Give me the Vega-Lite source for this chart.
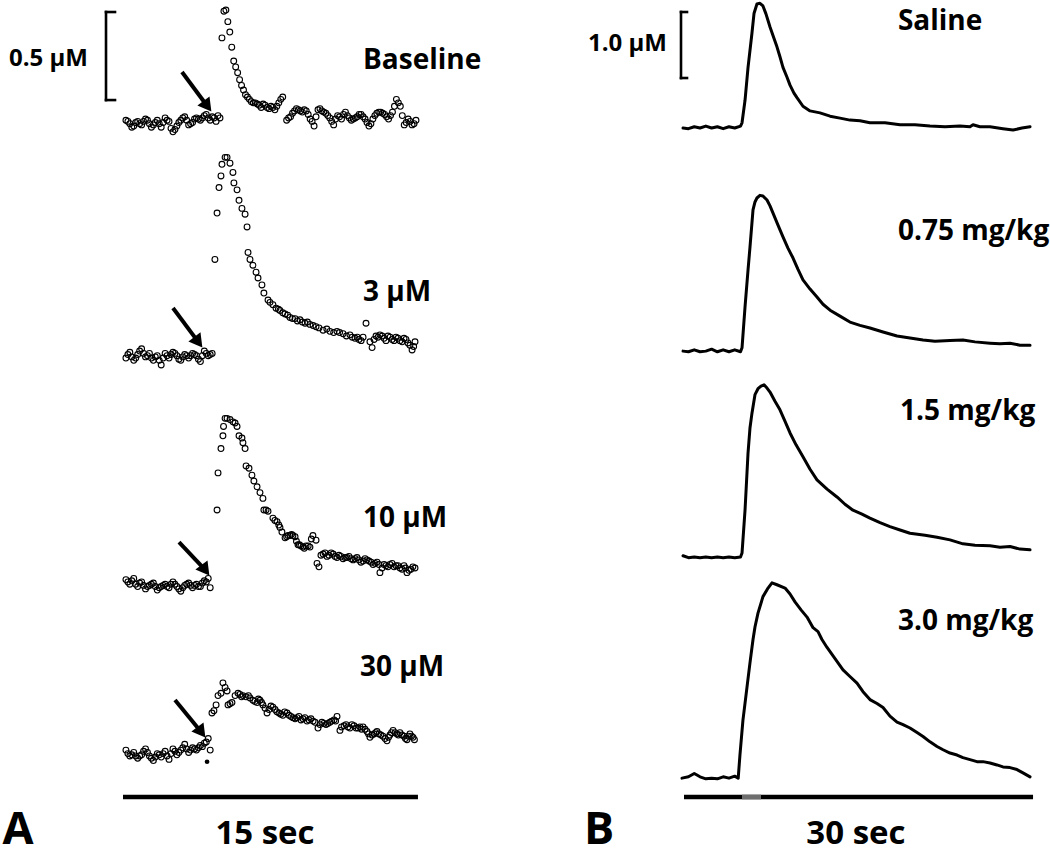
{
  "$schema": "https://vega.github.io/schema/vega-lite/v6.json",
  "padding": 0,
  "spacing": 0,
  "bounds": "flush",
  "background": "white",
  "config": {"view": {"stroke": null}, "text": {"font": "Open Sans", "fontWeight": "bold", "color": "#000"}},
  "datasets": {
    "aPts": [
      {"trace":"Baseline","t":0.2,"v":6.36},{"trace":"Baseline","t":0.4,"v":6.33},{"trace":"Baseline","t":0.6,"v":6.31},{"trace":"Baseline","t":0.8,"v":6.35},{"trace":"Baseline","t":1.0,"v":6.32},{"trace":"Baseline","t":1.2,"v":6.37},{"trace":"Baseline","t":1.4,"v":6.33},{"trace":"Baseline","t":1.6,"v":6.32},{"trace":"Baseline","t":1.8,"v":6.36},{"trace":"Baseline","t":2.0,"v":6.30},{"trace":"Baseline","t":2.2,"v":6.38},{"trace":"Baseline","t":2.4,"v":6.35},{"trace":"Baseline","t":2.6,"v":6.26},{"trace":"Baseline","t":2.8,"v":6.31},{"trace":"Baseline","t":3.0,"v":6.36},{"trace":"Baseline","t":3.2,"v":6.39},{"trace":"Baseline","t":3.4,"v":6.32},{"trace":"Baseline","t":3.6,"v":6.34},{"trace":"Baseline","t":3.8,"v":6.38},{"trace":"Baseline","t":4.0,"v":6.36},{"trace":"Baseline","t":4.2,"v":6.40},{"trace":"Baseline","t":4.4,"v":6.38},{"trace":"Baseline","t":4.6,"v":6.39},{"trace":"Baseline","t":4.8,"v":6.35},{"trace":"Baseline","t":5.0,"v":6.38},
      {"trace":"Baseline","t":0.3,"v":6.35},{"trace":"Baseline","t":0.5,"v":6.30},{"trace":"Baseline","t":0.7,"v":6.34},{"trace":"Baseline","t":0.9,"v":6.33},{"trace":"Baseline","t":1.1,"v":6.35},{"trace":"Baseline","t":1.3,"v":6.36},{"trace":"Baseline","t":1.5,"v":6.30},{"trace":"Baseline","t":1.7,"v":6.34},{"trace":"Baseline","t":1.9,"v":6.33},{"trace":"Baseline","t":2.1,"v":6.34},{"trace":"Baseline","t":2.3,"v":6.36},{"trace":"Baseline","t":2.5,"v":6.29},{"trace":"Baseline","t":2.7,"v":6.28},{"trace":"Baseline","t":2.9,"v":6.34},{"trace":"Baseline","t":3.1,"v":6.38},{"trace":"Baseline","t":3.3,"v":6.36},{"trace":"Baseline","t":3.5,"v":6.33},{"trace":"Baseline","t":3.7,"v":6.37},{"trace":"Baseline","t":3.9,"v":6.37},{"trace":"Baseline","t":4.1,"v":6.38},{"trace":"Baseline","t":4.3,"v":6.41},{"trace":"Baseline","t":4.5,"v":6.36},{"trace":"Baseline","t":4.7,"v":6.38},{"trace":"Baseline","t":4.9,"v":6.40},
      {"trace":"Baseline","t":5.1,"v":7.07},{"trace":"Baseline","t":5.2,"v":7.30},{"trace":"Baseline","t":5.3,"v":7.31},{"trace":"Baseline","t":5.4,"v":7.21},{"trace":"Baseline","t":5.5,"v":7.12},{"trace":"Baseline","t":5.6,"v":6.99},{"trace":"Baseline","t":5.7,"v":6.87},{"trace":"Baseline","t":5.8,"v":6.82},{"trace":"Baseline","t":5.9,"v":6.77},{"trace":"Baseline","t":6.0,"v":6.71},{"trace":"Baseline","t":6.1,"v":6.66},{"trace":"Baseline","t":6.2,"v":6.62},{"trace":"Baseline","t":6.3,"v":6.58},{"trace":"Baseline","t":6.4,"v":6.56},{"trace":"Baseline","t":6.5,"v":6.54},{"trace":"Baseline","t":6.6,"v":6.52},{"trace":"Baseline","t":6.8,"v":6.51},{"trace":"Baseline","t":7.0,"v":6.49},{"trace":"Baseline","t":7.2,"v":6.50},{"trace":"Baseline","t":7.4,"v":6.47},{"trace":"Baseline","t":7.6,"v":6.48},{"trace":"Baseline","t":7.8,"v":6.45},{"trace":"Baseline","t":8.0,"v":6.51},{"trace":"Baseline","t":8.2,"v":6.56},
      {"trace":"Baseline","t":6.7,"v":6.51},{"trace":"Baseline","t":6.9,"v":6.50},{"trace":"Baseline","t":7.1,"v":6.47},{"trace":"Baseline","t":7.3,"v":6.49},{"trace":"Baseline","t":7.5,"v":6.46},{"trace":"Baseline","t":7.7,"v":6.47},{"trace":"Baseline","t":7.9,"v":6.48},{"trace":"Baseline","t":8.1,"v":6.54},
      {"trace":"Baseline","t":8.4,"v":6.36},{"trace":"Baseline","t":8.6,"v":6.39},{"trace":"Baseline","t":8.8,"v":6.44},{"trace":"Baseline","t":9.0,"v":6.45},{"trace":"Baseline","t":9.2,"v":6.43},{"trace":"Baseline","t":9.4,"v":6.44},{"trace":"Baseline","t":9.6,"v":6.37},{"trace":"Baseline","t":9.8,"v":6.31},{"trace":"Baseline","t":10.0,"v":6.45},{"trace":"Baseline","t":10.2,"v":6.44},{"trace":"Baseline","t":10.4,"v":6.42},{"trace":"Baseline","t":10.6,"v":6.38},{"trace":"Baseline","t":10.8,"v":6.32},{"trace":"Baseline","t":11.0,"v":6.40},{"trace":"Baseline","t":11.2,"v":6.37},{"trace":"Baseline","t":11.4,"v":6.43},{"trace":"Baseline","t":11.6,"v":6.38},{"trace":"Baseline","t":11.8,"v":6.37},{"trace":"Baseline","t":12.0,"v":6.39},{"trace":"Baseline","t":12.2,"v":6.41},{"trace":"Baseline","t":12.4,"v":6.37},{"trace":"Baseline","t":12.6,"v":6.31},{"trace":"Baseline","t":12.8,"v":6.37},{"trace":"Baseline","t":13.0,"v":6.42},{"trace":"Baseline","t":13.2,"v":6.43},{"trace":"Baseline","t":13.4,"v":6.41},{"trace":"Baseline","t":13.6,"v":6.37},{"trace":"Baseline","t":13.8,"v":6.43},{"trace":"Baseline","t":14.0,"v":6.54},{"trace":"Baseline","t":14.2,"v":6.48},{"trace":"Baseline","t":14.4,"v":6.32},{"trace":"Baseline","t":14.6,"v":6.37},{"trace":"Baseline","t":14.8,"v":6.32},{"trace":"Baseline","t":15.0,"v":6.36},
      {"trace":"Baseline","t":8.5,"v":6.38},{"trace":"Baseline","t":8.7,"v":6.42},{"trace":"Baseline","t":8.9,"v":6.46},{"trace":"Baseline","t":9.1,"v":6.44},{"trace":"Baseline","t":9.3,"v":6.45},{"trace":"Baseline","t":9.5,"v":6.41},{"trace":"Baseline","t":9.7,"v":6.35},{"trace":"Baseline","t":9.9,"v":6.39},{"trace":"Baseline","t":10.1,"v":6.46},{"trace":"Baseline","t":10.3,"v":6.43},{"trace":"Baseline","t":10.5,"v":6.40},{"trace":"Baseline","t":10.7,"v":6.35},{"trace":"Baseline","t":10.9,"v":6.37},{"trace":"Baseline","t":11.1,"v":6.39},{"trace":"Baseline","t":11.3,"v":6.41},{"trace":"Baseline","t":11.5,"v":6.40},{"trace":"Baseline","t":11.7,"v":6.36},{"trace":"Baseline","t":11.9,"v":6.38},{"trace":"Baseline","t":12.1,"v":6.41},{"trace":"Baseline","t":12.3,"v":6.39},{"trace":"Baseline","t":12.5,"v":6.34},{"trace":"Baseline","t":12.7,"v":6.33},{"trace":"Baseline","t":12.9,"v":6.40},{"trace":"Baseline","t":13.1,"v":6.43},{"trace":"Baseline","t":13.3,"v":6.42},{"trace":"Baseline","t":13.5,"v":6.39},{"trace":"Baseline","t":13.7,"v":6.40},{"trace":"Baseline","t":13.9,"v":6.48},{"trace":"Baseline","t":14.1,"v":6.51},{"trace":"Baseline","t":14.3,"v":6.40},{"trace":"Baseline","t":14.5,"v":6.34},{"trace":"Baseline","t":14.7,"v":6.35},{"trace":"Baseline","t":14.9,"v":6.33},

      {"trace":"3 µM","t":0.2,"v":4.31},{"trace":"3 µM","t":0.4,"v":4.36},{"trace":"3 µM","t":0.6,"v":4.29},{"trace":"3 µM","t":0.8,"v":4.34},{"trace":"3 µM","t":1.0,"v":4.39},{"trace":"3 µM","t":1.2,"v":4.32},{"trace":"3 µM","t":1.4,"v":4.35},{"trace":"3 µM","t":1.6,"v":4.29},{"trace":"3 µM","t":1.8,"v":4.33},{"trace":"3 µM","t":2.0,"v":4.25},{"trace":"3 µM","t":2.2,"v":4.35},{"trace":"3 µM","t":2.4,"v":4.31},{"trace":"3 µM","t":2.6,"v":4.36},{"trace":"3 µM","t":2.8,"v":4.33},{"trace":"3 µM","t":3.0,"v":4.29},{"trace":"3 µM","t":3.2,"v":4.34},{"trace":"3 µM","t":3.4,"v":4.31},{"trace":"3 µM","t":3.6,"v":4.35},{"trace":"3 µM","t":3.8,"v":4.33},{"trace":"3 µM","t":4.0,"v":4.28},{"trace":"3 µM","t":4.2,"v":4.37},{"trace":"3 µM","t":4.4,"v":4.33},{"trace":"3 µM","t":4.6,"v":4.35},
      {"trace":"3 µM","t":0.3,"v":4.34},{"trace":"3 µM","t":0.5,"v":4.32},{"trace":"3 µM","t":0.7,"v":4.31},{"trace":"3 µM","t":0.9,"v":4.37},{"trace":"3 µM","t":1.1,"v":4.35},{"trace":"3 µM","t":1.3,"v":4.33},{"trace":"3 µM","t":1.5,"v":4.31},{"trace":"3 µM","t":1.7,"v":4.32},{"trace":"3 µM","t":1.9,"v":4.29},{"trace":"3 µM","t":2.1,"v":4.31},{"trace":"3 µM","t":2.3,"v":4.33},{"trace":"3 µM","t":2.5,"v":4.34},{"trace":"3 µM","t":2.7,"v":4.35},{"trace":"3 µM","t":2.9,"v":4.30},{"trace":"3 µM","t":3.1,"v":4.32},{"trace":"3 µM","t":3.3,"v":4.33},{"trace":"3 µM","t":3.5,"v":4.33},{"trace":"3 µM","t":3.7,"v":4.34},{"trace":"3 µM","t":3.9,"v":4.30},{"trace":"3 µM","t":4.1,"v":4.33},{"trace":"3 µM","t":4.3,"v":4.35},{"trace":"3 µM","t":4.5,"v":4.34},
      {"trace":"3 µM","t":4.74,"v":5.16},{"trace":"3 µM","t":4.85,"v":5.56},{"trace":"3 µM","t":4.95,"v":5.78},{"trace":"3 µM","t":5.05,"v":5.88},{"trace":"3 µM","t":5.10,"v":5.98},{"trace":"3 µM","t":5.26,"v":6.04},{"trace":"3 µM","t":5.36,"v":6.04},{"trace":"3 µM","t":5.51,"v":5.99},{"trace":"3 µM","t":5.66,"v":5.91},{"trace":"3 µM","t":5.71,"v":5.82},{"trace":"3 µM","t":5.87,"v":5.76},{"trace":"3 µM","t":5.97,"v":5.67},{"trace":"3 µM","t":6.12,"v":5.60},{"trace":"3 µM","t":6.28,"v":5.55},{"trace":"3 µM","t":6.38,"v":5.44},{"trace":"3 µM","t":6.43,"v":5.22},{"trace":"3 µM","t":6.53,"v":5.16},{"trace":"3 µM","t":6.68,"v":5.11},{"trace":"3 µM","t":6.84,"v":5.05},{"trace":"3 µM","t":6.94,"v":5.00},{"trace":"3 µM","t":7.14,"v":4.94},{"trace":"3 µM","t":7.24,"v":4.87},{"trace":"3 µM","t":7.45,"v":4.81},{"trace":"3 µM","t":7.70,"v":4.77},{"trace":"3 µM","t":7.86,"v":4.74},{"trace":"3 µM","t":8.06,"v":4.72},{"trace":"3 µM","t":8.32,"v":4.69},{"trace":"3 µM","t":8.57,"v":4.66},{"trace":"3 µM","t":8.83,"v":4.65},{"trace":"3 µM","t":9.08,"v":4.64},{"trace":"3 µM","t":9.34,"v":4.61},{"trace":"3 µM","t":9.59,"v":4.60},{"trace":"3 µM","t":9.90,"v":4.58},{"trace":"3 µM","t":10.26,"v":4.55},{"trace":"3 µM","t":10.61,"v":4.54},{"trace":"3 µM","t":10.97,"v":4.54},{"trace":"3 µM","t":11.28,"v":4.52},{"trace":"3 µM","t":11.63,"v":4.51},{"trace":"3 µM","t":11.89,"v":4.48},{"trace":"3 µM","t":12.09,"v":4.47},{"trace":"3 µM","t":12.30,"v":4.49},{"trace":"3 µM","t":12.45,"v":4.61},
      {"trace":"3 µM","t":7.55,"v":4.79},{"trace":"3 µM","t":7.98,"v":4.73},{"trace":"3 µM","t":8.2,"v":4.70},{"trace":"3 µM","t":8.45,"v":4.68},{"trace":"3 µM","t":8.7,"v":4.65},{"trace":"3 µM","t":8.95,"v":4.63},{"trace":"3 µM","t":9.2,"v":4.62},{"trace":"3 µM","t":9.46,"v":4.62},{"trace":"3 µM","t":9.75,"v":4.59},{"trace":"3 µM","t":10.05,"v":4.57},{"trace":"3 µM","t":10.45,"v":4.56},{"trace":"3 µM","t":10.8,"v":4.53},{"trace":"3 µM","t":11.1,"v":4.53},{"trace":"3 µM","t":11.45,"v":4.50},{"trace":"3 µM","t":11.75,"v":4.49},{"trace":"3 µM","t":12.0,"v":4.49},{"trace":"3 µM","t":12.2,"v":4.46},
      {"trace":"3 µM","t":12.65,"v":4.45},{"trace":"3 µM","t":12.76,"v":4.40},{"trace":"3 µM","t":12.96,"v":4.50},{"trace":"3 µM","t":13.16,"v":4.51},{"trace":"3 µM","t":13.37,"v":4.48},{"trace":"3 µM","t":13.57,"v":4.50},{"trace":"3 µM","t":13.78,"v":4.47},{"trace":"3 µM","t":13.98,"v":4.49},{"trace":"3 µM","t":14.18,"v":4.46},{"trace":"3 µM","t":14.39,"v":4.48},{"trace":"3 µM","t":14.59,"v":4.44},{"trace":"3 µM","t":14.80,"v":4.38},{"trace":"3 µM","t":14.95,"v":4.45},
      {"trace":"3 µM","t":12.86,"v":4.47},{"trace":"3 µM","t":13.06,"v":4.49},{"trace":"3 µM","t":13.27,"v":4.50},{"trace":"3 µM","t":13.47,"v":4.46},{"trace":"3 µM","t":13.68,"v":4.49},{"trace":"3 µM","t":13.88,"v":4.46},{"trace":"3 µM","t":14.08,"v":4.48},{"trace":"3 µM","t":14.29,"v":4.45},{"trace":"3 µM","t":14.49,"v":4.47},{"trace":"3 µM","t":14.69,"v":4.42},{"trace":"3 µM","t":14.88,"v":4.41},

      {"trace":"10 µM","t":0.2,"v":2.40},{"trace":"10 µM","t":0.4,"v":2.36},{"trace":"10 µM","t":0.6,"v":2.41},{"trace":"10 µM","t":0.8,"v":2.34},{"trace":"10 µM","t":1.0,"v":2.38},{"trace":"10 µM","t":1.2,"v":2.32},{"trace":"10 µM","t":1.4,"v":2.35},{"trace":"10 µM","t":1.6,"v":2.37},{"trace":"10 µM","t":1.8,"v":2.31},{"trace":"10 µM","t":2.0,"v":2.34},{"trace":"10 µM","t":2.2,"v":2.36},{"trace":"10 µM","t":2.4,"v":2.33},{"trace":"10 µM","t":2.6,"v":2.38},{"trace":"10 µM","t":2.8,"v":2.34},{"trace":"10 µM","t":3.0,"v":2.30},{"trace":"10 µM","t":3.2,"v":2.35},{"trace":"10 µM","t":3.4,"v":2.37},{"trace":"10 µM","t":3.6,"v":2.33},{"trace":"10 µM","t":3.8,"v":2.36},{"trace":"10 µM","t":4.0,"v":2.34},{"trace":"10 µM","t":4.2,"v":2.39},{"trace":"10 µM","t":4.4,"v":2.41},{"trace":"10 µM","t":4.5,"v":2.33},
      {"trace":"10 µM","t":0.3,"v":2.38},{"trace":"10 µM","t":0.5,"v":2.39},{"trace":"10 µM","t":0.7,"v":2.36},{"trace":"10 µM","t":0.9,"v":2.37},{"trace":"10 µM","t":1.1,"v":2.35},{"trace":"10 µM","t":1.3,"v":2.34},{"trace":"10 µM","t":1.5,"v":2.36},{"trace":"10 µM","t":1.7,"v":2.34},{"trace":"10 µM","t":1.9,"v":2.33},{"trace":"10 µM","t":2.1,"v":2.35},{"trace":"10 µM","t":2.3,"v":2.34},{"trace":"10 µM","t":2.5,"v":2.36},{"trace":"10 µM","t":2.7,"v":2.36},{"trace":"10 µM","t":2.9,"v":2.32},{"trace":"10 µM","t":3.1,"v":2.33},{"trace":"10 µM","t":3.3,"v":2.36},{"trace":"10 µM","t":3.5,"v":2.35},{"trace":"10 µM","t":3.7,"v":2.35},{"trace":"10 µM","t":3.9,"v":2.34},{"trace":"10 µM","t":4.1,"v":2.37},{"trace":"10 µM","t":4.3,"v":2.38},
      {"trace":"10 µM","t":4.85,"v":3.00},{"trace":"10 µM","t":4.90,"v":3.32},{"trace":"10 µM","t":5.05,"v":3.53},{"trace":"10 µM","t":5.15,"v":3.64},{"trace":"10 µM","t":5.18,"v":3.72},{"trace":"10 µM","t":5.26,"v":3.79},{"trace":"10 µM","t":5.36,"v":3.79},{"trace":"10 µM","t":5.51,"v":3.78},{"trace":"10 µM","t":5.66,"v":3.76},{"trace":"10 µM","t":5.77,"v":3.75},{"trace":"10 µM","t":5.87,"v":3.72},{"trace":"10 µM","t":5.97,"v":3.64},{"trace":"10 µM","t":6.12,"v":3.62},{"trace":"10 µM","t":6.17,"v":3.58},{"trace":"10 µM","t":6.28,"v":3.53},{"trace":"10 µM","t":6.33,"v":3.38},{"trace":"10 µM","t":6.48,"v":3.36},{"trace":"10 µM","t":6.63,"v":3.30},{"trace":"10 µM","t":6.73,"v":3.25},{"trace":"10 µM","t":6.89,"v":3.20},{"trace":"10 µM","t":7.04,"v":3.15},{"trace":"10 µM","t":7.19,"v":3.10},{"trace":"10 µM","t":7.24,"v":3.00},{"trace":"10 µM","t":7.35,"v":3.00},{"trace":"10 µM","t":7.45,"v":2.99},{"trace":"10 µM","t":7.70,"v":2.93},{"trace":"10 µM","t":7.91,"v":2.90},{"trace":"10 µM","t":8.06,"v":2.85},{"trace":"10 µM","t":8.16,"v":2.81},{"trace":"10 µM","t":8.32,"v":2.76},{"trace":"10 µM","t":8.47,"v":2.78},{"trace":"10 µM","t":8.57,"v":2.78},{"trace":"10 µM","t":8.72,"v":2.78},{"trace":"10 µM","t":8.83,"v":2.77},{"trace":"10 µM","t":8.98,"v":2.70},{"trace":"10 µM","t":9.13,"v":2.69},{"trace":"10 µM","t":9.23,"v":2.68},{"trace":"10 µM","t":9.39,"v":2.69},{"trace":"10 µM","t":9.59,"v":2.68},{"trace":"10 µM","t":9.74,"v":2.78},{"trace":"10 µM","t":9.90,"v":2.74},{"trace":"10 µM","t":9.95,"v":2.54},{"trace":"10 µM","t":10.05,"v":2.51},
      {"trace":"10 µM","t":7.8,"v":2.91},{"trace":"10 µM","t":8.0,"v":2.87},{"trace":"10 µM","t":8.4,"v":2.77},{"trace":"10 µM","t":8.65,"v":2.79},{"trace":"10 µM","t":8.9,"v":2.73},{"trace":"10 µM","t":9.05,"v":2.70},{"trace":"10 µM","t":9.3,"v":2.67},{"trace":"10 µM","t":9.5,"v":2.69},{"trace":"10 µM","t":9.66,"v":2.75},
      {"trace":"10 µM","t":10.15,"v":2.61},{"trace":"10 µM","t":10.36,"v":2.63},{"trace":"10 µM","t":10.56,"v":2.61},{"trace":"10 µM","t":10.77,"v":2.62},{"trace":"10 µM","t":10.97,"v":2.59},{"trace":"10 µM","t":11.17,"v":2.60},{"trace":"10 µM","t":11.38,"v":2.59},{"trace":"10 µM","t":11.58,"v":2.60},{"trace":"10 µM","t":11.79,"v":2.57},{"trace":"10 µM","t":11.99,"v":2.59},{"trace":"10 µM","t":12.19,"v":2.55},{"trace":"10 µM","t":12.40,"v":2.58},{"trace":"10 µM","t":12.60,"v":2.56},{"trace":"10 µM","t":12.81,"v":2.53},{"trace":"10 µM","t":13.01,"v":2.55},{"trace":"10 µM","t":13.16,"v":2.46},{"trace":"10 µM","t":13.37,"v":2.53},{"trace":"10 µM","t":13.57,"v":2.51},{"trace":"10 µM","t":13.78,"v":2.54},{"trace":"10 µM","t":13.98,"v":2.52},{"trace":"10 µM","t":14.18,"v":2.50},{"trace":"10 µM","t":14.39,"v":2.52},{"trace":"10 µM","t":14.54,"v":2.46},{"trace":"10 µM","t":14.74,"v":2.49},{"trace":"10 µM","t":14.95,"v":2.50},
      {"trace":"10 µM","t":10.26,"v":2.62},{"trace":"10 µM","t":10.46,"v":2.60},{"trace":"10 µM","t":10.67,"v":2.63},{"trace":"10 µM","t":10.87,"v":2.60},{"trace":"10 µM","t":11.07,"v":2.61},{"trace":"10 µM","t":11.28,"v":2.58},{"trace":"10 µM","t":11.48,"v":2.59},{"trace":"10 µM","t":11.69,"v":2.58},{"trace":"10 µM","t":11.89,"v":2.58},{"trace":"10 µM","t":12.09,"v":2.57},{"trace":"10 µM","t":12.30,"v":2.56},{"trace":"10 µM","t":12.50,"v":2.57},{"trace":"10 µM","t":12.71,"v":2.55},{"trace":"10 µM","t":12.91,"v":2.54},{"trace":"10 µM","t":13.11,"v":2.53},{"trace":"10 µM","t":13.27,"v":2.50},{"trace":"10 µM","t":13.47,"v":2.52},{"trace":"10 µM","t":13.67,"v":2.53},{"trace":"10 µM","t":13.88,"v":2.51},{"trace":"10 µM","t":14.08,"v":2.52},{"trace":"10 µM","t":14.29,"v":2.49},{"trace":"10 µM","t":14.46,"v":2.50},{"trace":"10 µM","t":14.64,"v":2.48},{"trace":"10 µM","t":14.84,"v":2.51},

      {"trace":"30 µM","t":0.2,"v":0.93},{"trace":"30 µM","t":0.4,"v":0.88},{"trace":"30 µM","t":0.6,"v":0.91},{"trace":"30 µM","t":0.8,"v":0.86},{"trace":"30 µM","t":1.0,"v":0.89},{"trace":"30 µM","t":1.2,"v":0.94},{"trace":"30 µM","t":1.4,"v":0.88},{"trace":"30 µM","t":1.6,"v":0.84},{"trace":"30 µM","t":1.8,"v":0.90},{"trace":"30 µM","t":2.0,"v":0.87},{"trace":"30 µM","t":2.2,"v":0.92},{"trace":"30 µM","t":2.4,"v":0.85},{"trace":"30 µM","t":2.6,"v":0.94},{"trace":"30 µM","t":2.8,"v":0.89},{"trace":"30 µM","t":3.0,"v":0.93},{"trace":"30 µM","t":3.2,"v":0.98},{"trace":"30 µM","t":3.4,"v":0.91},{"trace":"30 µM","t":3.6,"v":0.95},{"trace":"30 µM","t":3.8,"v":0.93},{"trace":"30 µM","t":4.0,"v":0.97},{"trace":"30 µM","t":4.2,"v":0.99},{"trace":"30 µM","t":4.4,"v":1.03},{"trace":"30 µM","t":4.5,"v":0.93},
      {"trace":"30 µM","t":0.3,"v":0.90},{"trace":"30 µM","t":0.5,"v":0.89},{"trace":"30 µM","t":0.7,"v":0.88},{"trace":"30 µM","t":0.9,"v":0.88},{"trace":"30 µM","t":1.1,"v":0.92},{"trace":"30 µM","t":1.3,"v":0.91},{"trace":"30 µM","t":1.5,"v":0.86},{"trace":"30 µM","t":1.7,"v":0.87},{"trace":"30 µM","t":1.9,"v":0.89},{"trace":"30 µM","t":2.1,"v":0.90},{"trace":"30 µM","t":2.3,"v":0.88},{"trace":"30 µM","t":2.5,"v":0.90},{"trace":"30 µM","t":2.7,"v":0.92},{"trace":"30 µM","t":2.9,"v":0.91},{"trace":"30 µM","t":3.1,"v":0.95},{"trace":"30 µM","t":3.3,"v":0.94},{"trace":"30 µM","t":3.5,"v":0.93},{"trace":"30 µM","t":3.7,"v":0.94},{"trace":"30 µM","t":3.9,"v":0.95},{"trace":"30 µM","t":4.1,"v":0.96},{"trace":"30 µM","t":4.3,"v":1.00},
      {"trace":"30 µM","t":4.59,"v":1.25},{"trace":"30 µM","t":4.69,"v":1.27},{"trace":"30 µM","t":4.80,"v":1.32},{"trace":"30 µM","t":4.90,"v":1.40},{"trace":"30 µM","t":5.05,"v":1.42},{"trace":"30 µM","t":5.15,"v":1.51},{"trace":"30 µM","t":5.26,"v":1.47},{"trace":"30 µM","t":5.36,"v":1.44},{"trace":"30 µM","t":5.41,"v":1.32},{"trace":"30 µM","t":5.51,"v":1.33},{"trace":"30 µM","t":5.61,"v":1.34},{"trace":"30 µM","t":5.77,"v":1.40},{"trace":"30 µM","t":5.92,"v":1.42},{"trace":"30 µM","t":6.02,"v":1.41},{"trace":"30 µM","t":6.17,"v":1.40},{"trace":"30 µM","t":6.33,"v":1.39},{"trace":"30 µM","t":6.53,"v":1.38},{"trace":"30 µM","t":6.68,"v":1.36},{"trace":"30 µM","t":6.89,"v":1.34},{"trace":"30 µM","t":7.04,"v":1.36},{"trace":"30 µM","t":7.19,"v":1.32},{"trace":"30 µM","t":7.30,"v":1.29},{"trace":"30 µM","t":7.40,"v":1.25},{"trace":"30 µM","t":7.60,"v":1.31},{"trace":"30 µM","t":7.81,"v":1.28},{"trace":"30 µM","t":8.01,"v":1.25},{"trace":"30 µM","t":8.21,"v":1.23},{"trace":"30 µM","t":8.42,"v":1.25},{"trace":"30 µM","t":8.62,"v":1.22},{"trace":"30 µM","t":8.83,"v":1.20},{"trace":"30 µM","t":9.03,"v":1.22},{"trace":"30 µM","t":9.23,"v":1.20},{"trace":"30 µM","t":9.44,"v":1.18},{"trace":"30 µM","t":9.64,"v":1.20},{"trace":"30 µM","t":9.85,"v":1.17},{"trace":"30 µM","t":10.0,"v":1.12},{"trace":"30 µM","t":10.20,"v":1.17},{"trace":"30 µM","t":10.41,"v":1.15},{"trace":"30 µM","t":10.61,"v":1.17},{"trace":"30 µM","t":10.82,"v":1.19},{"trace":"30 µM","t":10.97,"v":1.22},{"trace":"30 µM","t":11.12,"v":1.10},{"trace":"30 µM","t":11.33,"v":1.14},{"trace":"30 µM","t":11.53,"v":1.13},{"trace":"30 µM","t":11.73,"v":1.15},{"trace":"30 µM","t":11.94,"v":1.12},{"trace":"30 µM","t":12.14,"v":1.13},{"trace":"30 µM","t":12.30,"v":1.13},{"trace":"30 µM","t":12.50,"v":1.09},{"trace":"30 µM","t":12.65,"v":1.04},{"trace":"30 µM","t":12.86,"v":1.07},{"trace":"30 µM","t":13.01,"v":1.09},{"trace":"30 µM","t":13.21,"v":1.06},{"trace":"30 µM","t":13.42,"v":1.03},{"trace":"30 µM","t":13.52,"v":1.01},{"trace":"30 µM","t":13.67,"v":1.06},{"trace":"30 µM","t":13.83,"v":1.10},{"trace":"30 µM","t":14.03,"v":1.07},{"trace":"30 µM","t":14.18,"v":1.08},{"trace":"30 µM","t":14.39,"v":1.05},{"trace":"30 µM","t":14.54,"v":1.02},{"trace":"30 µM","t":14.69,"v":1.07},{"trace":"30 µM","t":14.85,"v":1.04},
      {"trace":"30 µM","t":6.1,"v":1.39},{"trace":"30 µM","t":6.45,"v":1.40},{"trace":"30 µM","t":6.78,"v":1.35},{"trace":"30 µM","t":6.96,"v":1.37},{"trace":"30 µM","t":7.12,"v":1.34},{"trace":"30 µM","t":7.5,"v":1.28},{"trace":"30 µM","t":7.7,"v":1.30},{"trace":"30 µM","t":7.9,"v":1.26},{"trace":"30 µM","t":8.1,"v":1.24},{"trace":"30 µM","t":8.3,"v":1.26},{"trace":"30 µM","t":8.52,"v":1.23},{"trace":"30 µM","t":8.72,"v":1.21},{"trace":"30 µM","t":8.93,"v":1.21},{"trace":"30 µM","t":9.13,"v":1.19},{"trace":"30 µM","t":9.33,"v":1.21},{"trace":"30 µM","t":9.54,"v":1.19},{"trace":"30 µM","t":9.75,"v":1.18},{"trace":"30 µM","t":10.1,"v":1.15},{"trace":"30 µM","t":10.3,"v":1.16},{"trace":"30 µM","t":10.5,"v":1.16},{"trace":"30 µM","t":10.7,"v":1.18},{"trace":"30 µM","t":10.9,"v":1.18},{"trace":"30 µM","t":11.2,"v":1.13},{"trace":"30 µM","t":11.43,"v":1.15},{"trace":"30 µM","t":11.63,"v":1.12},{"trace":"30 µM","t":11.84,"v":1.14},{"trace":"30 µM","t":12.04,"v":1.12},{"trace":"30 µM","t":12.22,"v":1.11},{"trace":"30 µM","t":12.4,"v":1.11},{"trace":"30 µM","t":12.58,"v":1.07},{"trace":"30 µM","t":12.76,"v":1.06},{"trace":"30 µM","t":12.94,"v":1.08},{"trace":"30 µM","t":13.11,"v":1.07},{"trace":"30 µM","t":13.31,"v":1.05},{"trace":"30 µM","t":13.6,"v":1.04},{"trace":"30 µM","t":13.75,"v":1.08},{"trace":"30 µM","t":13.93,"v":1.08},{"trace":"30 µM","t":14.1,"v":1.06},{"trace":"30 µM","t":14.28,"v":1.06},{"trace":"30 µM","t":14.46,"v":1.03},{"trace":"30 µM","t":14.62,"v":1.05},{"trace":"30 µM","t":14.77,"v":1.05},{"trace":"30 µM","t":14.92,"v":1.02}
    ],
    "aDot": [{"trace":"30 µM","t":4.34,"v":0.83}],
    "aArrows": [
      {"trace":"Baseline","t":3.061,"v":6.776,"t2":4.357,"v2":6.481},
      {"trace":"3 µM","t":2.602,"v":4.741,"t2":3.898,"v2":4.447},
      {"trace":"10 µM","t":2.908,"v":2.724,"t2":4.255,"v2":2.481},
      {"trace":"30 µM","t":2.704,"v":1.362,"t2":4.051,"v2":1.084}
    ],
    "aBars": [
      {"kind":"bracket","t":-0.816,"v":7.293,"t2":-0.816,"v2":6.534},
      {"kind":"bracket","t":-0.816,"v":7.293,"t2":-0.357,"v2":7.293},
      {"kind":"bracket","t":-0.816,"v":6.534,"t2":-0.357,"v2":6.534},
      {"kind":"time","t":0.051,"v":0.526,"t2":15.10,"v2":0.526}
    ],
    "aText": [
      {"role":"trace","t":12.296,"v":6.871,"label":"Baseline"},
      {"role":"trace","t":12.296,"v":4.871,"label":"3 µM"},
      {"role":"trace","t":12.296,"v":2.922,"label":"10 µM"},
      {"role":"trace","t":12.143,"v":1.638,"label":"30 µM"},
      {"role":"scale","t":-1.735,"v":6.888,"label":"0.5 µM"},
      {"role":"time","t":7.296,"v":0.207,"label":"15 sec"},
      {"role":"panel","t":-5.306,"v":0.1207,"label":"A"}
    ],
    "bLines": [
      {"trace":"Saline","t":-0.17,"v":11.06},{"trace":"Saline","t":0.3,"v":11.05},{"trace":"Saline","t":0.8,"v":11.08},{"trace":"Saline","t":1.3,"v":11.06},{"trace":"Saline","t":1.8,"v":11.09},{"trace":"Saline","t":2.3,"v":11.06},{"trace":"Saline","t":2.8,"v":11.08},{"trace":"Saline","t":3.3,"v":11.05},{"trace":"Saline","t":3.8,"v":11.08},{"trace":"Saline","t":4.3,"v":11.06},{"trace":"Saline","t":4.8,"v":11.09},{"trace":"Saline","t":4.93,"v":11.14},{"trace":"Saline","t":5.19,"v":11.48},{"trace":"Saline","t":5.45,"v":11.98},{"trace":"Saline","t":5.79,"v":12.50},{"trace":"Saline","t":5.97,"v":12.80},{"trace":"Saline","t":6.22,"v":12.94},{"trace":"Saline","t":6.48,"v":12.95},{"trace":"Saline","t":6.74,"v":12.91},{"trace":"Saline","t":7.00,"v":12.79},{"trace":"Saline","t":7.35,"v":12.59},{"trace":"Saline","t":7.69,"v":12.42},{"trace":"Saline","t":7.95,"v":12.29},{"trace":"Saline","t":8.21,"v":12.14},{"trace":"Saline","t":8.47,"v":11.98},{"trace":"Saline","t":8.82,"v":11.83},{"trace":"Saline","t":9.08,"v":11.71},{"trace":"Saline","t":9.42,"v":11.59},{"trace":"Saline","t":9.68,"v":11.52},{"trace":"Saline","t":10.20,"v":11.39},{"trace":"Saline","t":10.81,"v":11.32},{"trace":"Saline","t":11.67,"v":11.29},{"trace":"Saline","t":12.54,"v":11.24},{"trace":"Saline","t":13.40,"v":11.21},{"trace":"Saline","t":14.26,"v":11.18},{"trace":"Saline","t":15.13,"v":11.17},{"trace":"Saline","t":15.99,"v":11.14},{"trace":"Saline","t":17.29,"v":11.14},{"trace":"Saline","t":18.59,"v":11.11},{"trace":"Saline","t":19.88,"v":11.11},{"trace":"Saline","t":21.18,"v":11.09},{"trace":"Saline","t":22.48,"v":11.08},{"trace":"Saline","t":23.77,"v":11.09},{"trace":"Saline","t":24.64,"v":11.08},{"trace":"Saline","t":24.90,"v":11.11},{"trace":"Saline","t":25.50,"v":11.08},{"trace":"Saline","t":26.37,"v":11.08},{"trace":"Saline","t":27.49,"v":11.05},{"trace":"Saline","t":28.36,"v":11.03},{"trace":"Saline","t":29.13,"v":11.06},{"trace":"Saline","t":29.83,"v":11.08},

      {"trace":"0.75 mg/kg","t":-0.17,"v":7.68},{"trace":"0.75 mg/kg","t":0.3,"v":7.67},{"trace":"0.75 mg/kg","t":0.8,"v":7.70},{"trace":"0.75 mg/kg","t":1.3,"v":7.67},{"trace":"0.75 mg/kg","t":1.8,"v":7.68},{"trace":"0.75 mg/kg","t":2.3,"v":7.71},{"trace":"0.75 mg/kg","t":2.8,"v":7.67},{"trace":"0.75 mg/kg","t":3.3,"v":7.70},{"trace":"0.75 mg/kg","t":3.8,"v":7.67},{"trace":"0.75 mg/kg","t":4.3,"v":7.70},{"trace":"0.75 mg/kg","t":4.8,"v":7.67},{"trace":"0.75 mg/kg","t":4.93,"v":7.73},{"trace":"0.75 mg/kg","t":5.19,"v":8.35},{"trace":"0.75 mg/kg","t":5.45,"v":8.91},{"trace":"0.75 mg/kg","t":5.62,"v":9.26},{"trace":"0.75 mg/kg","t":5.88,"v":9.82},{"trace":"0.75 mg/kg","t":6.05,"v":9.94},{"trace":"0.75 mg/kg","t":6.22,"v":10.00},{"trace":"0.75 mg/kg","t":6.48,"v":10.04},{"trace":"0.75 mg/kg","t":6.74,"v":10.03},{"trace":"0.75 mg/kg","t":7.09,"v":9.97},{"trace":"0.75 mg/kg","t":7.35,"v":9.88},{"trace":"0.75 mg/kg","t":7.61,"v":9.77},{"trace":"0.75 mg/kg","t":8.04,"v":9.59},{"trace":"0.75 mg/kg","t":8.47,"v":9.41},{"trace":"0.75 mg/kg","t":8.90,"v":9.24},{"trace":"0.75 mg/kg","t":9.34,"v":9.09},{"trace":"0.75 mg/kg","t":9.77,"v":8.92},{"trace":"0.75 mg/kg","t":10.20,"v":8.76},{"trace":"0.75 mg/kg","t":10.81,"v":8.62},{"trace":"0.75 mg/kg","t":11.41,"v":8.50},{"trace":"0.75 mg/kg","t":11.93,"v":8.39},{"trace":"0.75 mg/kg","t":12.54,"v":8.30},{"trace":"0.75 mg/kg","t":13.40,"v":8.21},{"trace":"0.75 mg/kg","t":14.26,"v":8.12},{"trace":"0.75 mg/kg","t":15.13,"v":8.07},{"trace":"0.75 mg/kg","t":15.99,"v":8.03},{"trace":"0.75 mg/kg","t":17.12,"v":7.97},{"trace":"0.75 mg/kg","t":18.33,"v":7.91},{"trace":"0.75 mg/kg","t":19.45,"v":7.88},{"trace":"0.75 mg/kg","t":20.58,"v":7.85},{"trace":"0.75 mg/kg","t":21.61,"v":7.83},{"trace":"0.75 mg/kg","t":22.91,"v":7.84},{"trace":"0.75 mg/kg","t":24.03,"v":7.85},{"trace":"0.75 mg/kg","t":25.07,"v":7.82},{"trace":"0.75 mg/kg","t":26.37,"v":7.80},{"trace":"0.75 mg/kg","t":27.23,"v":7.79},{"trace":"0.75 mg/kg","t":28.10,"v":7.80},{"trace":"0.75 mg/kg","t":28.96,"v":7.77},{"trace":"0.75 mg/kg","t":29.83,"v":7.77},

      {"trace":"1.5 mg/kg","t":-0.17,"v":4.58},{"trace":"1.5 mg/kg","t":0.3,"v":4.55},{"trace":"1.5 mg/kg","t":0.8,"v":4.56},{"trace":"1.5 mg/kg","t":1.3,"v":4.55},{"trace":"1.5 mg/kg","t":1.8,"v":4.56},{"trace":"1.5 mg/kg","t":2.3,"v":4.55},{"trace":"1.5 mg/kg","t":2.8,"v":4.56},{"trace":"1.5 mg/kg","t":3.3,"v":4.55},{"trace":"1.5 mg/kg","t":3.8,"v":4.56},{"trace":"1.5 mg/kg","t":4.3,"v":4.55},{"trace":"1.5 mg/kg","t":4.8,"v":4.56},{"trace":"1.5 mg/kg","t":4.93,"v":4.62},{"trace":"1.5 mg/kg","t":5.19,"v":5.27},{"trace":"1.5 mg/kg","t":5.45,"v":6.14},{"trace":"1.5 mg/kg","t":5.62,"v":6.52},{"trace":"1.5 mg/kg","t":5.79,"v":6.74},{"trace":"1.5 mg/kg","t":6.05,"v":7.02},{"trace":"1.5 mg/kg","t":6.31,"v":7.11},{"trace":"1.5 mg/kg","t":6.57,"v":7.15},{"trace":"1.5 mg/kg","t":6.83,"v":7.17},{"trace":"1.5 mg/kg","t":7.09,"v":7.12},{"trace":"1.5 mg/kg","t":7.35,"v":7.06},{"trace":"1.5 mg/kg","t":7.78,"v":6.92},{"trace":"1.5 mg/kg","t":8.21,"v":6.79},{"trace":"1.5 mg/kg","t":8.64,"v":6.62},{"trace":"1.5 mg/kg","t":9.08,"v":6.44},{"trace":"1.5 mg/kg","t":9.60,"v":6.26},{"trace":"1.5 mg/kg","t":10.20,"v":6.08},{"trace":"1.5 mg/kg","t":10.81,"v":5.89},{"trace":"1.5 mg/kg","t":11.41,"v":5.73},{"trace":"1.5 mg/kg","t":12.28,"v":5.59},{"trace":"1.5 mg/kg","t":13.14,"v":5.47},{"trace":"1.5 mg/kg","t":13.83,"v":5.36},{"trace":"1.5 mg/kg","t":14.52,"v":5.27},{"trace":"1.5 mg/kg","t":15.30,"v":5.21},{"trace":"1.5 mg/kg","t":15.99,"v":5.15},{"trace":"1.5 mg/kg","t":16.86,"v":5.08},{"trace":"1.5 mg/kg","t":17.72,"v":5.02},{"trace":"1.5 mg/kg","t":18.59,"v":4.97},{"trace":"1.5 mg/kg","t":19.45,"v":4.92},{"trace":"1.5 mg/kg","t":20.75,"v":4.89},{"trace":"1.5 mg/kg","t":21.79,"v":4.86},{"trace":"1.5 mg/kg","t":22.91,"v":4.82},{"trace":"1.5 mg/kg","t":24.03,"v":4.76},{"trace":"1.5 mg/kg","t":25.07,"v":4.74},{"trace":"1.5 mg/kg","t":26.37,"v":4.73},{"trace":"1.5 mg/kg","t":27.23,"v":4.71},{"trace":"1.5 mg/kg","t":28.10,"v":4.72},{"trace":"1.5 mg/kg","t":28.96,"v":4.68},{"trace":"1.5 mg/kg","t":29.83,"v":4.67},

      {"trace":"3.0 mg/kg","t":-0.26,"v":1.21},{"trace":"3.0 mg/kg","t":0.3,"v":1.23},{"trace":"3.0 mg/kg","t":0.8,"v":1.28},{"trace":"3.0 mg/kg","t":1.3,"v":1.23},{"trace":"3.0 mg/kg","t":1.8,"v":1.20},{"trace":"3.0 mg/kg","t":2.3,"v":1.21},{"trace":"3.0 mg/kg","t":2.8,"v":1.20},{"trace":"3.0 mg/kg","t":3.3,"v":1.23},{"trace":"3.0 mg/kg","t":3.8,"v":1.21},{"trace":"3.0 mg/kg","t":4.3,"v":1.24},{"trace":"3.0 mg/kg","t":4.6,"v":1.21},{"trace":"3.0 mg/kg","t":4.75,"v":1.56},{"trace":"3.0 mg/kg","t":5.01,"v":2.09},{"trace":"3.0 mg/kg","t":5.36,"v":2.59},{"trace":"3.0 mg/kg","t":5.62,"v":2.96},{"trace":"3.0 mg/kg","t":5.88,"v":3.31},{"trace":"3.0 mg/kg","t":6.05,"v":3.50},{"trace":"3.0 mg/kg","t":6.31,"v":3.71},{"trace":"3.0 mg/kg","t":6.74,"v":3.96},{"trace":"3.0 mg/kg","t":7.18,"v":4.09},{"trace":"3.0 mg/kg","t":7.52,"v":4.17},{"trace":"3.0 mg/kg","t":7.95,"v":4.14},{"trace":"3.0 mg/kg","t":8.65,"v":4.09},{"trace":"3.0 mg/kg","t":9.08,"v":4.00},{"trace":"3.0 mg/kg","t":9.51,"v":3.88},{"trace":"3.0 mg/kg","t":10.03,"v":3.76},{"trace":"3.0 mg/kg","t":10.55,"v":3.65},{"trace":"3.0 mg/kg","t":11.07,"v":3.49},{"trace":"3.0 mg/kg","t":11.50,"v":3.43},{"trace":"3.0 mg/kg","t":11.84,"v":3.31},{"trace":"3.0 mg/kg","t":12.28,"v":3.19},{"trace":"3.0 mg/kg","t":12.97,"v":3.02},{"trace":"3.0 mg/kg","t":13.66,"v":2.85},{"trace":"3.0 mg/kg","t":14.26,"v":2.75},{"trace":"3.0 mg/kg","t":14.87,"v":2.65},{"trace":"3.0 mg/kg","t":15.39,"v":2.52},{"trace":"3.0 mg/kg","t":15.99,"v":2.40},{"trace":"3.0 mg/kg","t":16.60,"v":2.34},{"trace":"3.0 mg/kg","t":17.12,"v":2.28},{"trace":"3.0 mg/kg","t":17.72,"v":2.15},{"trace":"3.0 mg/kg","t":18.33,"v":2.06},{"trace":"3.0 mg/kg","t":18.85,"v":2.02},{"trace":"3.0 mg/kg","t":19.45,"v":1.97},{"trace":"3.0 mg/kg","t":20.06,"v":1.90},{"trace":"3.0 mg/kg","t":20.58,"v":1.84},{"trace":"3.0 mg/kg","t":21.18,"v":1.76},{"trace":"3.0 mg/kg","t":21.79,"v":1.69},{"trace":"3.0 mg/kg","t":22.31,"v":1.64},{"trace":"3.0 mg/kg","t":22.91,"v":1.59},{"trace":"3.0 mg/kg","t":23.52,"v":1.56},{"trace":"3.0 mg/kg","t":24.03,"v":1.52},{"trace":"3.0 mg/kg","t":24.64,"v":1.49},{"trace":"3.0 mg/kg","t":25.24,"v":1.46},{"trace":"3.0 mg/kg","t":25.76,"v":1.46},{"trace":"3.0 mg/kg","t":26.37,"v":1.44},{"trace":"3.0 mg/kg","t":26.97,"v":1.41},{"trace":"3.0 mg/kg","t":27.49,"v":1.38},{"trace":"3.0 mg/kg","t":28.10,"v":1.37},{"trace":"3.0 mg/kg","t":28.70,"v":1.34},{"trace":"3.0 mg/kg","t":29.22,"v":1.29},{"trace":"3.0 mg/kg","t":29.83,"v":1.23}
    ],
    "bBars": [
      {"kind":"bracket","t":-0.346,"v":12.818,"t2":-0.346,"v2":11.818},
      {"kind":"bracket","t":-0.346,"v":12.818,"t2":0.173,"v2":12.818},
      {"kind":"bracket","t":-0.346,"v":11.818,"t2":0.173,"v2":11.818},
      {"kind":"time","t":-0.086,"v":0.924,"t2":30.09,"v2":0.924},
      {"kind":"stim","t":4.93,"v":0.924,"t2":6.57,"v2":0.924}
    ],
    "bText": [
      {"role":"top","t":18.41,"v":12.545,"label":"Saline"},
      {"role":"trace","t":18.41,"v":9.485,"label":"0.75 mg/kg"},
      {"role":"trace","t":18.59,"v":6.758,"label":"1.5 mg/kg"},
      {"role":"trace","t":18.41,"v":3.576,"label":"3.0 mg/kg"},
      {"role":"scale","t":-1.556,"v":12.333,"label":"1.0  µM"},
      {"role":"time","t":14.78,"v":0.364,"label":"30 sec"},
      {"role":"panel","t":-7.435,"v":0.2121,"label":"B"}
    ]
  },
  "hconcat": [
    {
      "width": 560,
      "height": 858,
      "encoding": {
        "x": {"field": "t", "type": "quantitative", "scale": {"domain": [-6.2245, 22.347], "nice": false, "zero": false}, "axis": null},
        "y": {"field": "v", "type": "quantitative", "scale": {"domain": [0, 7.3966], "nice": false, "zero": false}, "axis": null}
      },
      "layer": [
        {"data": {"name": "aBars"}, "transform": [{"filter": "datum.kind === 'bracket'"}], "mark": {"type": "rule", "color": "#000", "strokeWidth": 2.6, "strokeCap": "square"}, "encoding": {"x2": {"field": "t2"}, "y2": {"field": "v2"}}},
        {"data": {"name": "aBars"}, "transform": [{"filter": "datum.kind === 'time'"}], "mark": {"type": "rule", "color": "#000", "strokeWidth": 4.6}, "encoding": {"x2": {"field": "t2"}, "y2": {"field": "v2"}}},
        {"data": {"name": "aArrows"}, "mark": {"type": "rule", "color": "#000", "strokeWidth": 4}, "encoding": {"x2": {"field": "t2"}, "y2": {"field": "v2"}}},
        {"data": {"name": "aArrows"}, "mark": {"type": "point", "shape": "triangle-down", "angle": 323, "filled": true, "color": "#000", "opacity": 1, "size": 230}, "encoding": {"x": {"field": "t2", "type": "quantitative"}, "y": {"field": "v2", "type": "quantitative"}}},
        {"data": {"name": "aPts"}, "mark": {"type": "point", "shape": "circle", "filled": false, "stroke": "#000", "strokeWidth": 1.1, "opacity": 1, "size": 34}, "encoding": {"detail": {"field": "trace"}}},
        {"data": {"name": "aDot"}, "mark": {"type": "point", "shape": "circle", "filled": true, "color": "#000", "opacity": 1, "size": 22}},
        {"data": {"name": "aText"}, "transform": [{"filter": "datum.role === 'trace'"}], "mark": {"type": "text", "align": "left", "baseline": "middle", "fontSize": 28}, "encoding": {"text": {"field": "label"}}},
        {"data": {"name": "aText"}, "transform": [{"filter": "datum.role === 'scale'"}], "mark": {"type": "text", "align": "right", "baseline": "middle", "fontSize": 24}, "encoding": {"text": {"field": "label"}}},
        {"data": {"name": "aText"}, "transform": [{"filter": "datum.role === 'time'"}], "mark": {"type": "text", "align": "center", "baseline": "middle", "fontSize": 33}, "encoding": {"text": {"field": "label"}}},
        {"data": {"name": "aText"}, "transform": [{"filter": "datum.role === 'panel'"}], "mark": {"type": "text", "align": "center", "baseline": "alphabetic", "fontSize": 45}, "encoding": {"text": {"field": "label"}}}
      ]
    },
    {
      "width": 490,
      "height": 858,
      "encoding": {
        "x": {"field": "t", "type": "quantitative", "scale": {"domain": [-10.807, 31.556], "nice": false, "zero": false}, "axis": null},
        "y": {"field": "v", "type": "quantitative", "scale": {"domain": [0, 13.0], "nice": false, "zero": false}, "axis": null}
      },
      "layer": [
        {"data": {"name": "bBars"}, "transform": [{"filter": "datum.kind === 'bracket'"}], "mark": {"type": "rule", "color": "#000", "strokeWidth": 2.6, "strokeCap": "square"}, "encoding": {"x2": {"field": "t2"}, "y2": {"field": "v2"}}},
        {"data": {"name": "bBars"}, "transform": [{"filter": "datum.kind === 'time'"}], "mark": {"type": "rule", "color": "#000", "strokeWidth": 4.6}, "encoding": {"x2": {"field": "t2"}, "y2": {"field": "v2"}}},
        {"data": {"name": "bBars"}, "transform": [{"filter": "datum.kind === 'stim'"}], "mark": {"type": "rule", "color": "#6e6e6e", "strokeWidth": 4.6}, "encoding": {"x2": {"field": "t2"}, "y2": {"field": "v2"}}},
        {"data": {"name": "bLines"}, "mark": {"type": "line", "color": "#000", "strokeWidth": 3, "strokeJoin": "round", "strokeCap": "round"}, "encoding": {"detail": {"field": "trace"}}},
        {"data": {"name": "bText"}, "transform": [{"filter": "datum.role === 'trace'"}], "mark": {"type": "text", "align": "left", "baseline": "middle", "fontSize": 28}, "encoding": {"text": {"field": "label"}}},
        {"data": {"name": "bText"}, "transform": [{"filter": "datum.role === 'top'"}], "mark": {"type": "text", "align": "left", "baseline": "alphabetic", "fontSize": 28}, "encoding": {"text": {"field": "label"}}},
        {"data": {"name": "bText"}, "transform": [{"filter": "datum.role === 'scale'"}], "mark": {"type": "text", "align": "right", "baseline": "middle", "fontSize": 24}, "encoding": {"text": {"field": "label"}}},
        {"data": {"name": "bText"}, "transform": [{"filter": "datum.role === 'time'"}], "mark": {"type": "text", "align": "center", "baseline": "middle", "fontSize": 33}, "encoding": {"text": {"field": "label"}}},
        {"data": {"name": "bText"}, "transform": [{"filter": "datum.role === 'panel'"}], "mark": {"type": "text", "align": "center", "baseline": "alphabetic", "fontSize": 45}, "encoding": {"text": {"field": "label"}}}
      ]
    }
  ]
}
